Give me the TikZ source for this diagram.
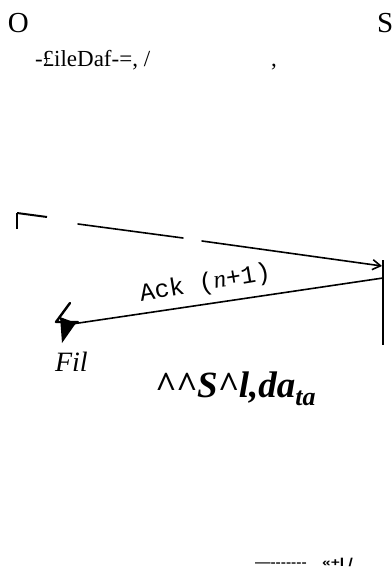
\documentclass[tikz,border=0pt]{standalone}
\usepackage{fontspec}
\setmainfont{Liberation Serif}
\newfontfamily\monof{Liberation Mono}
\newfontfamily\sansf{Liberation Sans}
\usetikzlibrary{arrows.meta}
\tikzset{
  txt/.style={inner sep=0pt, outer sep=0pt},
  ink/.style={line width=1.6pt, line cap=round, black},
  lifeline/.style={line width=2.6pt, black},
}
\begin{document}
\begin{tikzpicture}[x=1pt,y=-1pt]
\useasboundingbox (0,0) rectangle (391,567);
% header labels
\node[txt, anchor=base west] (o) at (8,32.5) {\fontsize{29}{34}\selectfont O};
\node[txt, anchor=base west] (s) at (377,32.5) {\fontsize{29}{34}\selectfont S};
\node[txt, anchor=base west] (fd) at (35,67) {\fontsize{23}{27}\selectfont -£ileDaf-=, /};
\node[txt, anchor=base west] (cm) at (271,67) {\fontsize{23}{27}\selectfont ,};
% bracket at left
\coordinate (bt) at (17,213);
\coordinate (bb) at (17,229);
\coordinate (br) at (47,217);
\draw[line width=2.6pt] (bb) -- (bt);
\draw[line width=2pt] (bt) -- (br);
% right lifeline
\coordinate (lt) at (383,260);
\coordinate (lb) at (383,345);
\draw[lifeline] (lt) -- (lb);
% dashed message
\coordinate (m1) at (78,224);
\coordinate (m2) at (183,238);
\coordinate (m3) at (202,241);
\coordinate (m4) at (382,266);
\draw[ink] (m1) -- (m2);
\draw[ink, -{Straight Barb[length=8pt,width=10pt,line width=1.6pt]}] (m3) -- (m4);
% ack message
\coordinate (a1) at (383,278);
\coordinate (a2) at (72,324);
\draw[ink] (a1) -- (a2);
\node[txt, anchor=base west, rotate=9.5] (ack) at (141,301) {\fontsize{25}{29}\monof Ack (\textit{\fontspec{Liberation Serif}n}+1)};
% lightning end
\coordinate (z1) at (70,303);
\coordinate (z2) at (56,322);
\coordinate (z3) at (78,322);
\draw[line width=2.4pt, line join=round, line cap=round] (z1) -- (z2) -- (z3);
\coordinate (t1) at (60,317);
\coordinate (t2) at (76,323);
\coordinate (t3) at (62,343);
\fill (t1) -- (t2) -- (t3) -- cycle;
% labels below
\node[txt, anchor=base west] (fil) at (55,371) {\fontsize{28}{32}\selectfont\itshape Fil};
\node[txt, anchor=base west] (sd) at (155,397) {\fontsize{37}{41}\selectfont\bfseries\itshape \textasciicircum\textasciicircum S\textasciicircum l,da\raisebox{-0.22em}{\fontsize{26}{28}\selectfont ta}};
% bottom text
\node[txt, anchor=base west] (bt1) at (255,566) {\scalebox{1.35}[1]{\fontsize{11.5}{13}\sansf\bfseries —-------\quad «+l /}};
\end{tikzpicture}
\end{document}
